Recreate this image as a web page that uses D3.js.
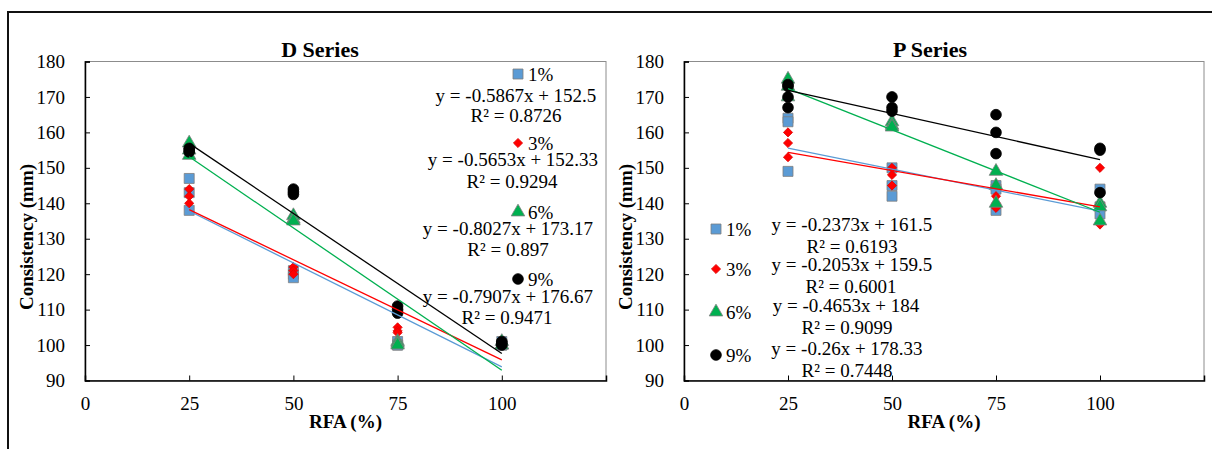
<!DOCTYPE html>
<html>
<head>
<meta charset="utf-8">
<script src="https://cdn.jsdelivr.net/npm/d3@7"></script>
<style>
    body { margin: 0; background: #fff; }
    svg, svg text { font-family: "Liberation Serif", "DejaVu Serif", "Times New Roman", Times, serif; }
</style>
</head>
<body>
<svg id="chart" width="1212" height="449"></svg>
<script>
    // ---- data ----
    var levels = ['1%', '3%', '6%', '9%'];
    var rfa = [25, 50, 75, 100];
    var xTicks = [0, 25, 50, 75, 100];
    var yTicks = [90, 100, 110, 120, 130, 140, 150, 160, 170, 180];

    // D series, consistency (mm) per RFA level
    var dSer1 = [[147, 143, 138], [121, 120, 119], [101, 100, 100], [101, 100, 100]];
    var dSer3 = [[144, 142, 140], [122, 121, 120], [105, 104, 103.5], [101, 100, 100]];
    var dSer6 = [[157, 155, 153.5], [136.5, 135.5, 135], [101, 100.5, 100], [101, 100, 100]];
    var dSer9 = [[155.5, 155, 154.5], [144, 143.2, 142.5], [111, 110, 109], [101, 100.5, 100]];
    var dSlope = [-0.5867, -0.5653, -0.8027, -0.7907];
    var dIntercept = [152.5, 152.33, 173.17, 176.67];
    var dR2 = ['0.8726', '0.9294', '0.897', '0.9471'];

    // P series
    var pSer1 = [[164, 163, 149], [150, 145, 142], [145, 144, 138], [144, 139, 137]];
    var pSer3 = [[160, 157, 153], [150, 148, 145], [142, 140, 138.7], [150, 140, 134]];
    var pSer6 = [[175, 173, 170], [163, 162, 161.5], [149, 145, 140], [140, 139, 135]];
    var pSer9 = [[173.5, 173, 170, 167], [170, 167, 166], [165, 160, 154], [155.5, 155, 143]];
    var pSlope = [-0.2373, -0.2053, -0.4653, -0.26];
    var pIntercept = [161.5, 159.5, 184, 178.33];
    var pR2 = ['0.6193', '0.6001', '0.9099', '0.7448'];

(function () {
    'use strict';

    // ---- styles ----
    var serif = '"Liberation Serif", "DejaVu Serif", "Times New Roman", Times, serif';
    var markerFill = ['#5B9BD5', '#FF0000', '#00B050', '#000000'];
    var markerStroke = ['#7f7f7f', '#e00000', '#7f7f7f', '#000000'];
    var lineColor = ['#5B9BD5', '#FF0000', '#00B050', '#000000'];

    // Excel-like diamond: as wide as it is tall
    var evenDiamond = {
        draw: function (ctx, size) {
            var r = Math.sqrt(size / 2);
            ctx.moveTo(0, -r);
            ctx.lineTo(r, 0);
            ctx.lineTo(0, r);
            ctx.lineTo(-r, 0);
            ctx.closePath();
        }
    };
    var symbols = [
        d3.symbol().type(d3.symbolSquare).size(100),
        d3.symbol().type(evenDiamond).size(42),
        d3.symbol().type(d3.symbolTriangle).size(80),
        d3.symbol().type(d3.symbolCircle).size(90)
    ];
    var fontSize = 19;

    var svg = d3.select('#chart').attr('font-family', serif);

    // outer frame (top and left edges visible)
    svg.append('path')
        .attr('d', 'M8,449V12H1212')
        .attr('fill', 'none')
        .attr('stroke', '#111')
        .attr('stroke-width', 2);

    var charts = [
        {
            title: 'D Series', series: [dSer1, dSer3, dSer6, dSer9],
            slope: dSlope, intercept: dIntercept, r2: dR2,
            left: 85, right: 606, titleX: 320, yTitleX: 26,
            legend: { mx: 518, tx: 528, my: [74, 143, 212, 279] },
            eq: { x: [516, 513, 508, 508], y: [96, 160, 229, 297] },
            rr: { x: [516, 512, 508, 507], y: [116, 182, 250, 318] }
        },
        {
            title: 'P Series', series: [pSer1, pSer3, pSer6, pSer9],
            slope: pSlope, intercept: pIntercept, r2: pR2,
            left: 684, right: 1204, titleX: 930, yTitleX: 625,
            legend: { mx: 716, tx: 726, my: [229, 269, 312, 355] },
            eq: { x: [852, 852, 846, 847], y: [225, 265, 306, 349] },
            rr: { x: [852, 851, 847, 847], y: [247, 287, 328, 371] }
        }
    ];

    var plotTop = 61.5, plotBottom = 380.5;

    charts.forEach(function (c) {
        var x = d3.scaleLinear().domain([0, 125]).range([c.left, c.right]);
        var y = d3.scaleLinear().domain([90, 180]).range([plotBottom, plotTop]);
        var g = svg.append('g');

        // plot box
        g.append('rect')
            .attr('x', c.left).attr('y', plotTop)
            .attr('width', c.right - c.left).attr('height', plotBottom - plotTop)
            .attr('fill', '#fff')
            .attr('stroke', '#8c8c8c')
            .attr('stroke-width', 1);

        // axes
        var yAxis = d3.axisLeft(y).tickValues(yTicks).tickSize(-5).tickPadding(20);
        var xAxis = d3.axisBottom(x).tickValues(xTicks).tickSize(-5).tickPadding(16);

        var ya = g.append('g').attr('transform', 'translate(' + c.left + ',0)').call(yAxis);
        var xa = g.append('g').attr('transform', 'translate(0,' + plotBottom + ')').call(xAxis);
        [ya, xa].forEach(function (a) {
            a.attr('font-family', serif).attr('font-size', fontSize);
            a.select('.domain').attr('stroke', '#000').attr('stroke-width', 1.5);
            a.selectAll('.tick line').attr('stroke', '#000').attr('stroke-width', 1);
            a.selectAll('.tick text').attr('fill', '#000');
        });
        xa.selectAll('.tick').filter(function (d) { return d === 0; }).select('line').remove();
        ya.selectAll('.tick').filter(function (d) { return d === 90; }).select('line').remove();

        // titles
        g.append('text')
            .attr('x', c.titleX).attr('y', 49).attr('dy', '0.35em')
            .attr('text-anchor', 'middle')
            .attr('font-size', 22).attr('font-weight', 'bold')
            .text(c.title);

        g.append('text')
            .attr('x', (c.left + c.right) / 2).attr('y', 421).attr('dy', '0.35em')
            .attr('text-anchor', 'middle')
            .attr('font-size', fontSize).attr('font-weight', 'bold')
            .text('RFA (%)');

        g.append('text')
            .attr('transform', 'translate(' + c.yTitleX + ',237) rotate(-90)')
            .attr('dy', '0.35em')
            .attr('text-anchor', 'middle')
            .attr('font-size', fontSize).attr('font-weight', 'bold')
            .text('Consistency (mm)');

        // points
        c.series.forEach(function (s, i) {
            var pts = [];
            s.forEach(function (vals, j) {
                vals.forEach(function (v) { pts.push({ x: rfa[j], y: v }); });
            });
            g.append('g').selectAll('path')
                .data(pts)
                .enter().append('path')
                .attr('transform', function (d) { return 'translate(' + x(d.x) + ',' + y(d.y) + ')'; })
                .attr('d', symbols[i])
                .attr('fill', markerFill[i])
                .attr('stroke', markerStroke[i])
                .attr('stroke-width', 0.8);
        });

        // linear trendlines from the fitted equations
        c.series.forEach(function (s, i) {
            var x0 = d3.min(rfa), x1 = d3.max(rfa);
            g.append('line')
                .attr('x1', x(x0)).attr('y1', y(c.slope[i] * x0 + c.intercept[i]))
                .attr('x2', x(x1)).attr('y2', y(c.slope[i] * x1 + c.intercept[i]))
                .attr('stroke', lineColor[i])
                .attr('stroke-width', 1.3);
        });

        // legend entries with equations
        levels.forEach(function (lv, i) {
            g.append('path')
                .attr('transform', 'translate(' + c.legend.mx + ',' + c.legend.my[i] + ')')
                .attr('d', symbols[i])
                .attr('fill', markerFill[i])
                .attr('stroke', markerStroke[i])
                .attr('stroke-width', 0.8);
            g.append('text')
                .attr('x', c.legend.tx).attr('y', c.legend.my[i] + 1).attr('dy', '0.33em')
                .attr('font-size', fontSize)
                .text(lv);
            g.append('text')
                .attr('x', c.eq.x[i]).attr('y', c.eq.y[i]).attr('dy', '0.33em')
                .attr('text-anchor', 'middle')
                .attr('font-size', fontSize)
                .text('y = ' + c.slope[i] + 'x + ' + c.intercept[i]);
            g.append('text')
                .attr('x', c.rr.x[i]).attr('y', c.rr.y[i]).attr('dy', '0.33em')
                .attr('text-anchor', 'middle')
                .attr('font-size', fontSize)
                .text('R\u00b2 = ' + c.r2[i]);
        });
    });
}());
</script>
</body>
</html>
